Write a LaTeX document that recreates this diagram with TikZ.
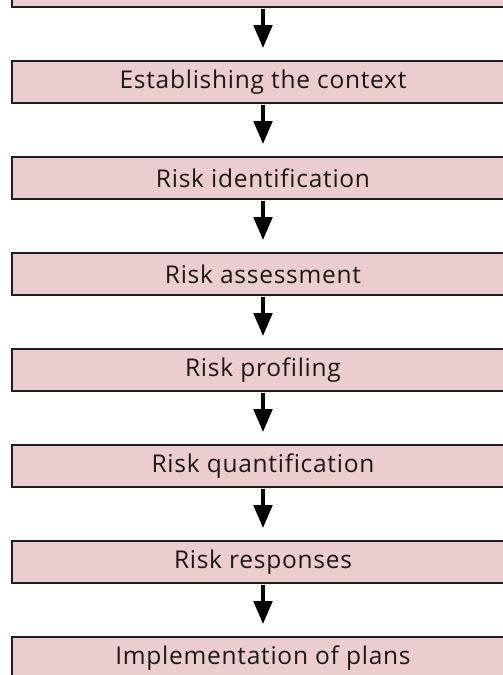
\documentclass[tikz,border=0pt]{standalone}
\usepackage{fontspec}
\setmainfont[Ligatures=NoCommon,LetterSpace=3]{Open Sans}
\usetikzlibrary{arrows.meta}
\definecolor{stagefill}{RGB}{235,205,206}
\definecolor{stageline}{RGB}{30,30,30}
\begin{document}
\begin{tikzpicture}[x=1pt,y=1pt,
  stagebox/.style={draw=stageline, line width=1.5pt, fill=stagefill,
    minimum width=502pt, minimum height=42pt, inner sep=0pt,
    font=\fontsize{24.5}{28}\selectfont, text=black!90},
  flow/.style={line width=4.5pt, -{Triangle[width=18pt,length=23pt]},
    shorten >=12pt, shorten <=1pt}]
\useasboundingbox (0,0) rectangle (503,675);
% stages, 96pt apart, top box partly above the page
\node[stagebox] (s0) at (263,675+14) {};
\node[stagebox] (s1) at (263,675-82)  {Establishing the context};
\node[stagebox] (s2) at (263,675-178) {Risk identification};
\node[stagebox] (s3) at (263,675-274) {Risk assessment};
\node[stagebox] (s4) at (263,675-370) {Risk profiling};
\node[stagebox] (s5) at (263,675-466) {Risk quantification};
\node[stagebox] (s6) at (263,675-562) {Risk responses};
\node[stagebox] (s7) at (263,675-658) {Implementation of plans};
% arrows between consecutive stages
\foreach \a/\b in {s0/s1,s1/s2,s2/s3,s3/s4,s4/s5,s5/s6,s6/s7}
  \draw[flow] (\a.south) -- (\b.north);
\end{tikzpicture}
\end{document}
